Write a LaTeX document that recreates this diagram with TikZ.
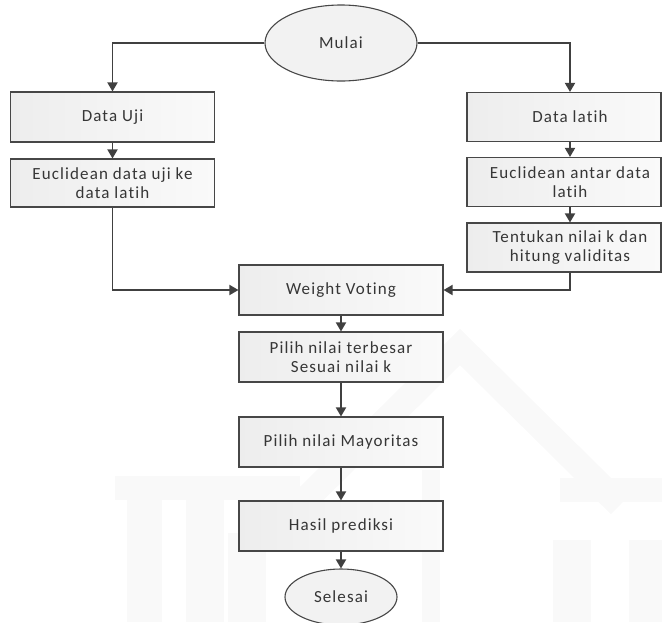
\documentclass[tikz,border=0pt]{standalone}
\usepackage{fontspec}
\setmainfont{Carlito}[LetterSpace=6.5, Ligatures=NoCommon]
\usetikzlibrary{shapes.geometric,arrows.meta}

\definecolor{edgegray}{HTML}{474747}
\definecolor{wiregray}{HTML}{404040}
\definecolor{inkgray}{HTML}{363636}
\definecolor{markgray}{HTML}{F9F9F9}

\tikzset{
  stepbox/.style={rectangle, draw=edgegray, line width=1.1pt,
    left color=black!7, right color=black!2,
    minimum height=49pt, inner sep=0pt, text=inkgray, align=center,
    font=\fontsize{17}{19.5}\selectfont},
  leftbox/.style={stepbox, minimum width=203.5pt},
  rightbox/.style={stepbox, minimum width=194pt},
  midbox/.style={stepbox, minimum width=204pt},
  boxtext/.style={inner sep=0pt, text=inkgray, align=center,
    font=\fontsize{17}{19.5}\selectfont},
  terminal/.style={ellipse, draw=edgegray, line width=1.1pt, fill=black!5,
    inner sep=0pt, text=inkgray, font=\fontsize{17}{19.5}\selectfont},
  flow/.style={draw=wiregray, line width=1.8pt,
    -{Triangle[length=9pt,width=10pt]}},
}

\begin{document}
\begin{tikzpicture}[x=1pt, y=-1pt]
  \useasboundingbox (0,0) rectangle (662,622);
  \clip (0,0) rectangle (662,622);

  % faint building emblem in the background
  \begin{scope}[markgray]
    \draw[line width=26pt, miter limit=10] (300,505) -- (460,347) -- (620,505);
    \fill (115,476) rectangle (300,500);
    \fill (560,478) rectangle (662,502);
    \fill (127,490) rectangle (162,622);
    \fill (186,490) rectangle (224,622);
    \fill (228,533) rectangle (266,622);
    \fill (422,470) rectangle (440,622);
    \fill (553,540) rectangle (591,622);
    \fill (629,540) rectangle (662,622);
  \end{scope}

  % start and end
  \node[terminal, minimum width=152pt, minimum height=76pt] (mulai) at (341,43) {Mulai};
  \node[terminal, minimum width=112pt, minimum height=56pt] (selesai) at (341,597) {Selesai};

  % test-data branch
  \node[leftbox, minimum height=50pt] (du) at (112.5,117) {Data Uji};
  \node[leftbox, minimum height=48pt] (eu) at (112.5,183) {Euclidean data uji ke\\data latih};

  % training-data branch (frames, then their labels)
  \node[rightbox] (dl) at (564,117) {};
  \node[rightbox] (ea) at (564,182) {};
  \node[rightbox] (tk) at (564,247.5) {};
  \node[boxtext] (dlt) at (570,117) {Data latih};
  \node[boxtext] (eat) at (570,182) {Euclidean antar data\\latih};
  \node[boxtext] (tkt) at (570,247.5) {Tentukan nilai k dan\\hitung validitas};

  % main column
  \node[midbox, minimum height=50pt] (wv) at (341,290) {Weight Voting};
  \node[midbox, minimum height=50pt] (pt) at (341,357) {Pilih nilai terbesar\\Sesuai nilai k};
  \node[midbox, minimum height=50pt] (pm) at (341,442) {Pilih nilai Mayoritas};
  \node[midbox, minimum height=50pt] (hp) at (341,526) {Hasil prediksi};

  % connectors
  \draw[flow] (mulai.west) -| (du.north);
  \draw[flow] (mulai.east) -| (dl.north -| dlt);
  \draw[flow] (du.south) -- (eu.north);
  \draw[flow] (dl.south -| dlt) -- (ea.north -| eat);
  \draw[flow] (ea.south -| eat) -- (tk.north -| tkt);
  \draw[flow] (eu.south) |- (wv.west);
  \draw[flow] (tk.south -| tkt) |- (wv.east);
  \draw[flow] (wv.south) -- (pt.north);
  \draw[flow] (pt.south) -- (pm.north);
  \draw[flow] (pm.south) -- (hp.north);
  \draw[flow] (hp.south) -- (selesai.north);
\end{tikzpicture}
\end{document}
